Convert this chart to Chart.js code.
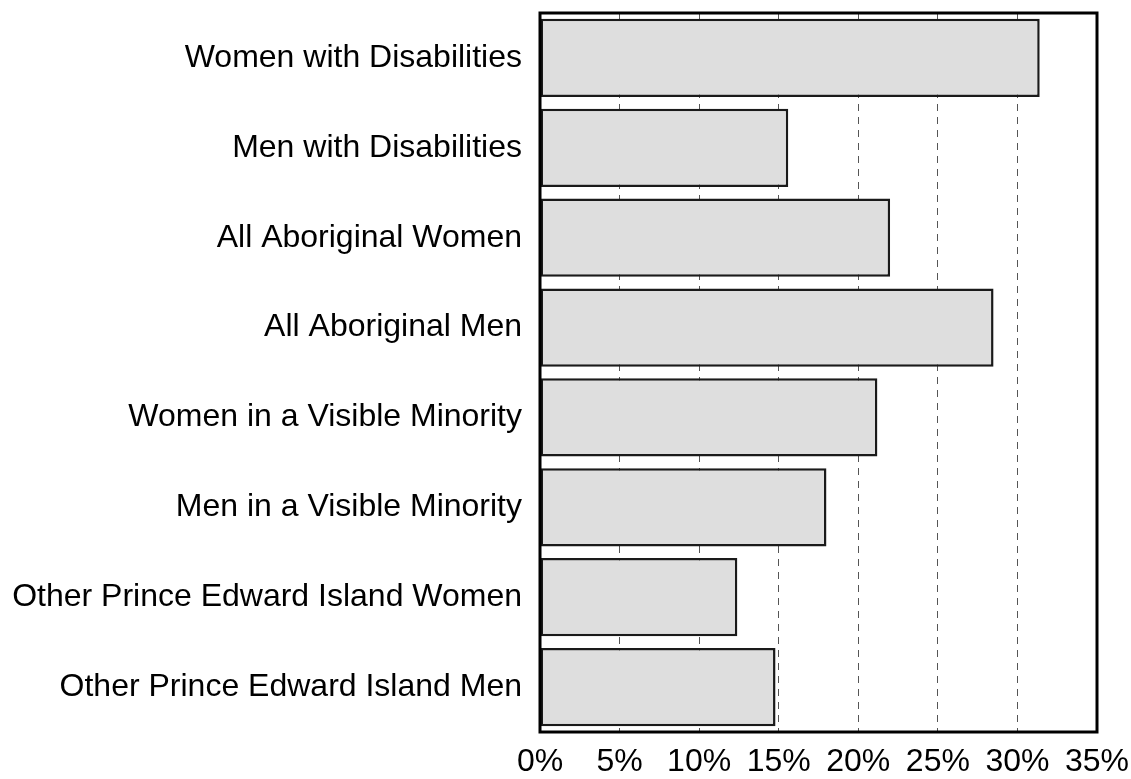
<!DOCTYPE html>
<html>
<head>
<meta charset="utf-8">
<script src="https://cdn.jsdelivr.net/npm/chart.js@4"></script>
<style>
  html, body { margin: 0; padding: 0; background: #fff; }
  #wrap { width: 1131px; height: 779px; }
</style>
</head>
<body>
<div id="wrap"><canvas id="graficoBarras"></canvas></div>
<script>
const categorias = [
    'Women with Disabilities',
    'Men with Disabilities',
    'All Aboriginal Women',
    'All Aboriginal Men',
    'Women in a Visible Minority',
    'Men in a Visible Minority',
    'Other Prince Edward Island Women',
    'Other Prince Edward Island Men',
];
const valores = [31.4, 15.6, 22.0, 28.5, 21.2, 18.0, 12.4, 14.8];
const ticksX = [0, 5, 10, 15, 20, 25, 30, 35];

// moldura preta em volta da área do gráfico
const moldura = {
    id: 'moldura',
    afterDraw(chart) {
        const { ctx, chartArea: a } = chart;
        ctx.save();
        ctx.strokeStyle = '#000';
        ctx.lineWidth = 3;
        ctx.strokeRect(a.left, a.top, a.right - a.left, a.bottom - a.top);
        ctx.restore();
    },
};

Chart.defaults.font.family = '"Liberation Sans", Arial, sans-serif';
Chart.defaults.color = '#000';

const ctx = document.getElementById('graficoBarras').getContext('2d');
new Chart(ctx, {
    type: 'bar',
    data: {
        labels: categorias,
        datasets: [
            {
                data: valores,
                backgroundColor: '#dedede',
                borderColor: '#1a1a1a',
                borderWidth: 2.5,
                borderSkipped: false,
                barPercentage: 0.87,
                categoryPercentage: 1,
            },
        ],
    },
    options: {
        indexAxis: 'y',
        responsive: true,
        maintainAspectRatio: false,
        animation: false,
        layout: { padding: { left: 10, top: 13, right: 34, bottom: 0 } },
        plugins: {
            legend: { display: false },
            tooltip: { enabled: false },
        },
        scales: {
            x: {
                min: 0,
                max: 35,
                afterBuildTicks: axis => {
                    axis.ticks = ticksX.map(v => ({ value: v }));
                },
                afterFit: scale => {
                    scale.paddingLeft = 0;
                    scale.paddingRight = 0;
                    scale.height = 47;
                },
                ticks: {
                    font: { size: 32 },
                    padding: 11,
                    maxRotation: 0,
                    callback: v => v + '%',
                },
                grid: {
                    color: '#555',
                    lineWidth: 1,
                    drawTicks: false,
                },
                border: { display: false, dash: [7, 6] },
            },
            y: {
                afterFit: scale => {
                    scale.paddingTop = 0;
                    scale.paddingBottom = 0;
                    scale.width = 530;
                },
                ticks: {
                    font: { size: 32 },
                    padding: 18,
                },
                grid: { display: false, drawTicks: false },
                border: { display: false },
            },
        },
    },
    plugins: [moldura],
});
</script>
</body>
</html>
